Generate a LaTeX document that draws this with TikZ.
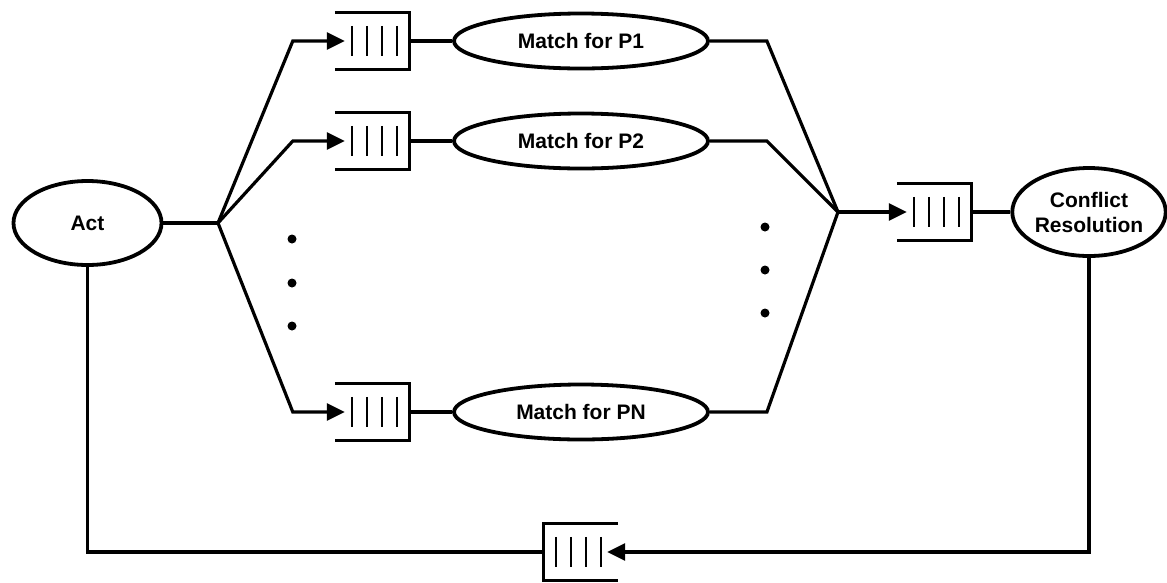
\documentclass[tikz,border=0pt]{standalone}
\usepackage{fontspec}
\setmainfont{Liberation Sans}
\usetikzlibrary{arrows.meta,shapes.geometric}

\tikzset{
  proc/.style={ellipse, draw, line width=3.8pt, inner sep=0pt,
               font=\fontsize{21}{25}\selectfont\bfseries, align=center},
  qslot/.style={rectangle, minimum width=74pt, minimum height=57pt, inner sep=0pt},
  wire/.style={line width=3.2pt},
  feed/.style={wire, -{Triangle[length=18pt,width=17pt]}},
  qline/.style={line width=3.2pt},
  qbar/.style={line width=2.4pt},
  dot/.style={circle, fill, inner sep=0pt, minimum size=9pt},
}

% queue whose opening faces left (items enter from the left)
\newcommand\inqueue[1]{%
  \draw[qline] (#1.north west) -- (#1.north east) -- (#1.south east) -- (#1.south west);
  \foreach \d in {17,32,47,62}
    \draw[qbar] ([xshift=\d pt, yshift=-13.5pt]#1.north west) -- ([xshift=\d pt, yshift=13.5pt]#1.south west);
}
% queue whose opening faces right (items enter from the right)
\newcommand\outqueue[1]{%
  \draw[qline] (#1.north east) -- (#1.north west) -- (#1.south west) -- (#1.south east);
  \foreach \d in {17,32,47,62}
    \draw[qbar] ([xshift=-\d pt, yshift=-13.5pt]#1.north east) -- ([xshift=-\d pt, yshift=13.5pt]#1.south east);
}

\begin{document}
\begin{tikzpicture}[x=1pt, y=-1pt]
\useasboundingbox (0,0) rectangle (1167,582);

% processes
\node[proc, minimum width=148pt, minimum height=84pt] (act) at (87.5,223) {Act};
\node[proc, minimum width=254pt, minimum height=55pt] (m1) at (581,41)  {Match for P1};
\node[proc, minimum width=254pt, minimum height=55pt] (m2) at (581,141) {Match for P2};
\node[proc, minimum width=254pt, minimum height=55pt] (mn) at (581,412) {Match for PN};
\node[proc, minimum width=150pt, minimum height=88pt] (cr) at (1089,212) {Conflict\\Resolution};

% queues
\node[qslot] (q1) at (372,41)  {};
\node[qslot] (q2) at (372,141) {};
\node[qslot] (qn) at (372,412) {};
\node[qslot] (qc) at (934,212) {};
\node[qslot] (qb) at (581,552) {};
\inqueue{q1}
\inqueue{q2}
\inqueue{qn}
\inqueue{qc}
\outqueue{qb}

% fan-out and fan-in points
\coordinate (fork)  at (218,223);
\coordinate (merge) at (838,212);

% elided rows
\node[dot] (dl1) at (292,239) {};
\node[dot] (dl2) at (292,283) {};
\node[dot] (dl3) at (292,326) {};
\node[dot] (dr1) at (765,227) {};
\node[dot] (dr2) at (765,270) {};
\node[dot] (dr3) at (765,313) {};

% Act to the match queues
\draw[wire] (act.east) -- (fork);
\draw[feed] (fork) -- ([xshift=-42pt]q1.west) -- ([xshift=10pt]q1.west);
\draw[feed] (fork) -- ([xshift=-42pt]q2.west) -- ([xshift=10pt]q2.west);
\draw[feed] (fork) -- ([xshift=-42pt]qn.west) -- ([xshift=10pt]qn.west);

% queues into the match processes
\draw[wire] (q1.east) -- (m1.west);
\draw[wire] (q2.east) -- (m2.west);
\draw[wire] (qn.east) -- (mn.west);

% match results into conflict resolution
\draw[wire] (m1.east) -- ([xshift=57pt]m1.east) -- (merge);
\draw[wire] (m2.east) -- ([xshift=57pt]m2.east) -- (merge);
\draw[wire] (mn.east) -- ([xshift=57pt]mn.east) -- (merge);
\draw[feed] (merge) -- ([xshift=10pt]qc.west);
\draw[wire] (qc.east) -- (cr.west);

% feedback loop back to Act
\draw[feed] (cr.south) -- (cr.south |- qb.east) -- ([xshift=-11pt]qb.east);
\draw[wire] (act.south) -- (act.south |- qb.west) -- (qb.west);
\end{tikzpicture}
\end{document}
